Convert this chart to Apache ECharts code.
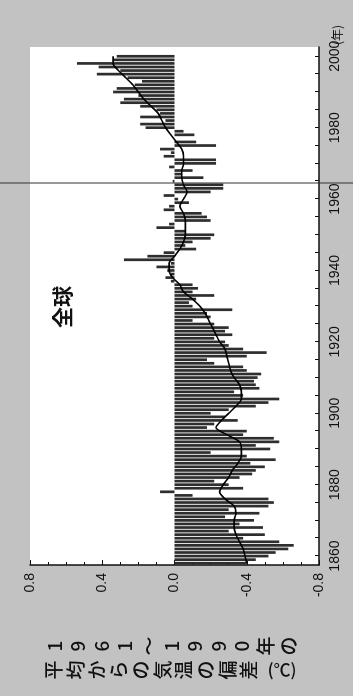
<!DOCTYPE html>
<html>
<head>
<meta charset="utf-8">
<script src="https://cdn.jsdelivr.net/npm/echarts@6/dist/echarts.min.js"></script>
<style>
  html, body { margin: 0; padding: 0; width: 353px; height: 696px; overflow: hidden; background: #c2c2c2; }
  /* chart is drawn upright, then turned a quarter turn to the left like the scan */
  #chart { position: absolute; left: 0; top: 0; width: 696px; height: 353px;
           transform-origin: 0 0; transform: rotate(-90deg) translate(-696px, 0); }
</style>
</head>
<body>
<div id="chart"></div>
<script>
// annual anomalies 1858..2000 (deg C, vs 1961-1990 mean)
const startYear = 1858;
const anomaly = [
  -0.40, -0.45,
  -0.52, -0.56, -0.63, -0.66, -0.58, -0.38, -0.50, -0.30, -0.49, -0.36,
  -0.44, -0.28, -0.47, -0.30, -0.52, -0.55, -0.52, -0.10, 0.08, -0.38,
  -0.30, -0.22, -0.36, -0.43, -0.45, -0.50, -0.42, -0.56, -0.40, -0.20,
  -0.53, -0.45, -0.58, -0.55, -0.38, -0.40, -0.18, -0.22, -0.35, -0.28,
  -0.20, -0.30, -0.45, -0.52, -0.58, -0.38, -0.33, -0.47, -0.45, -0.44,
  -0.46, -0.48, -0.40, -0.38, -0.22, -0.18, -0.40, -0.51, -0.38, -0.30,
  -0.28, -0.22, -0.32, -0.28, -0.30, -0.22, -0.10, -0.20, -0.18, -0.32,
  -0.10, -0.08, -0.12, -0.22, -0.10, -0.13, -0.10, 0.02, 0.05, 0.02,
  0.04, 0.10, 0.02, 0.28, 0.15, 0.06, -0.12, -0.06, -0.10, -0.20,
  -0.22, -0.06, 0.10, 0.03, -0.20, -0.18, -0.15, 0.06, 0.03, -0.08,
  -0.02, 0.06, -0.20, -0.27, -0.27, 0.01, -0.16, -0.04, -0.10, 0.03,
  -0.23, -0.23, 0.06, 0.02, 0.08, -0.23, -0.12, 0.00, -0.11, -0.05,
  0.16, 0.19, 0.05, 0.19, 0.08, 0.10, 0.19, 0.30, 0.28, 0.20,
  0.34, 0.32, 0.22, 0.18, 0.26, 0.43, 0.30, 0.42, 0.54, 0.34,
  0.32
];

// smoothed curve read every two years
const smoothYears = [
  1858, 1860, 1862, 1864, 1866, 1868, 1870, 1872, 1874, 1876, 1878,
  1880, 1882, 1884, 1886, 1888, 1890, 1892, 1894, 1896, 1898,
  1900, 1902, 1904, 1906, 1908, 1910, 1912, 1914, 1916, 1918,
  1920, 1922, 1924, 1926, 1928, 1930, 1932, 1934, 1936, 1938,
  1940, 1942, 1944, 1946, 1948, 1950, 1952, 1954, 1956, 1958,
  1960, 1962, 1964, 1966, 1968, 1970, 1972, 1974, 1976, 1978,
  1980, 1982, 1984, 1986, 1988, 1990, 1992, 1994, 1996, 1998, 2000
];
const smoothValues = [
  -0.40, -0.39, -0.38, -0.36, -0.34, -0.33, -0.33, -0.34, -0.33, -0.28, -0.25,
  -0.27, -0.30, -0.32, -0.35, -0.37, -0.37, -0.36, -0.29, -0.23, -0.26,
  -0.30, -0.34, -0.37, -0.37, -0.36, -0.33, -0.31, -0.30, -0.29, -0.28,
  -0.25, -0.23, -0.21, -0.19, -0.17, -0.14, -0.10, -0.05, -0.03, 0.01,
  0.03, 0.03, 0.00, -0.03, -0.05, -0.06, -0.06, -0.06, -0.05, -0.03,
  -0.05, -0.07, -0.05, -0.04, -0.04, -0.05, -0.05, -0.04, -0.01, 0.02,
  0.05, 0.07, 0.09, 0.13, 0.17, 0.20, 0.23, 0.27, 0.31, 0.34, 0.34
];

const yearLabels = [1860, 1880, 1900, 1920, 1940, 1960, 1980, 2000];
const yearTicks = [1860, 1865, 1870, 1875, 1880, 1885, 1890, 1895, 1900, 1905, 1910,
  1915, 1920, 1925, 1930, 1935, 1940, 1945, 1950, 1955, 1960, 1965, 1970, 1975,
  1980, 1985, 1990, 1995, 2000];

const numFont = 'Liberation Sans';

const chart = echarts.init(document.getElementById('chart'));

const option = {
  animation: false,
  backgroundColor: '#c2c2c2',
  grid: {
    left: 131, right: 47, top: 30, bottom: 34,
    show: true, backgroundColor: '#ffffff', borderWidth: 0,
    outerBoundsMode: 'none'
  },
  xAxis: {
    type: 'value',
    min: 1857.5,
    max: 2002.6,
    axisLine: { show: true, onZero: false, lineStyle: { color: '#111', width: 1.5 } },
    axisTick: { show: true, inside: true, length: 4, customValues: yearTicks, lineStyle: { color: '#111' } },
    axisLabel: {
      customValues: yearLabels,
      formatter: v => String(v),
      fontFamily: numFont, fontSize: 14, color: '#111', margin: 9
    },
    splitLine: { show: false }
  },
  yAxis: {
    type: 'value',
    min: -0.8,
    max: 0.8,
    interval: 0.4,
    axisLine: { show: true, lineStyle: { color: '#111', width: 1.5 } },
    axisTick: { show: true, inside: true, length: 5, lineStyle: { color: '#111' } },
    minorTick: { show: true, splitNumber: 4, length: 3, lineStyle: { color: '#111' } },
    axisLabel: {
      formatter: v => v.toFixed(1),
      fontFamily: numFont, fontSize: 14, color: '#111', margin: 8
    },
    splitLine: { show: false }
  },
  series: [
    {
      type: 'bar',
      data: anomaly.map((v, i) => [startYear + i, v]),
      barWidth: 2.7,
      itemStyle: { color: '#2e2e2e' },
      z: 2
    },
    {
      type: 'line',
      data: smoothYears.map((y, i) => [y, smoothValues[i]]),
      smooth: 0.3,
      showSymbol: false,
      lineStyle: { color: '#000', width: 1.6 },
      z: 3
    }
  ],
  graphic: [
    // fold mark of the scan
    { type: 'line', shape: { x1: 513, y1: 0, x2: 513, y2: 353 }, style: { stroke: '#333', lineWidth: 1 }, z: 10 },
    {
      type: 'text', x: 368, y: 52,
      style: { text: '全球', font: 'bold 21px "Noto Sans CJK JP"', fill: '#111' }
    },
    {
      type: 'text', x: 50, y: 43,
      style: {
        text: '1\n9\n6\n1\n〜\n1\n9\n9\n0\n年\nの',
        font: '500 19px "Noto Sans CJK JP"', lineHeight: 23.4,
        align: 'center', verticalAlign: 'top', fill: '#111'
      }
    },
    {
      type: 'text', x: 26, y: 43,
      style: {
        text: '平\n均\nか\nら\nの\n気\n温\nの\n偏\n差',
        font: '500 19px "Noto Sans CJK JP"', lineHeight: 21.7,
        align: 'center', verticalAlign: 'top', fill: '#111'
      }
    },
    {
      type: 'text', x: 26, y: 282, rotation: -Math.PI / 2,
      style: {
        text: '(℃)', font: '500 17px "Noto Sans CJK JP"',
        align: 'center', verticalAlign: 'middle', fill: '#111'
      }
    },
    {
      type: 'text', x: 651, y: 337,
      style: {
        text: '(年)', font: '12px "Noto Sans CJK JP"',
        align: 'left', verticalAlign: 'middle', fill: '#111'
      }
    }
  ]
};

chart.setOption(option);
</script>
</body>
</html>
